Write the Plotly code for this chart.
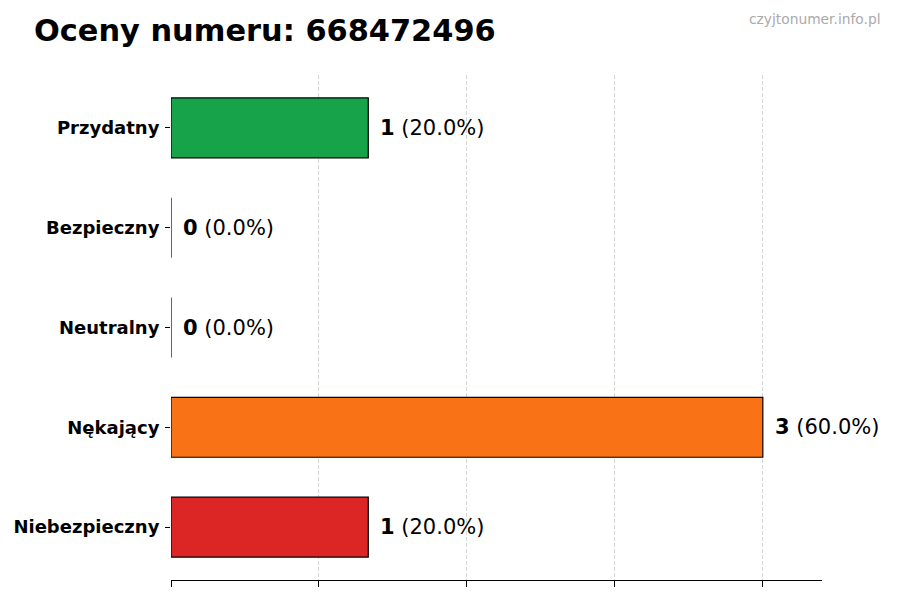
import plotly.graph_objects as go

categories = ["Przydatny", "Bezpieczny", "Neutralny", "Nękający", "Niebezpieczny"]
counts = [1, 0, 0, 3, 1]
percents = [20.0, 0.0, 0.0, 60.0, 20.0]
colors = ["#16a34a", "#16a34a", "#9ca3af", "#f97316", "#dc2626"]
tick_vals = [0, 0.75, 1.5, 2.25, 3]
title = "Oceny numeru: 668472496"
watermark = "czyjtonumer.info.pl"

fig = go.Figure()
fig.add_trace(go.Bar(
    y=categories, x=counts, orientation="h", width=0.6,
    marker=dict(color=colors, line=dict(color="#000000", width=1.2)),
    hoverinfo="skip",
))

for c, v, p in zip(categories, counts, percents):
    fig.add_annotation(
        x=v, y=c, xref="x", yref="y", xanchor="left", yanchor="middle",
        xshift=10, showarrow=False,
        text=f"<b>{v}</b> ({p:.1f}%)",
        font=dict(family="DejaVu Sans", size=21, color="#000000"),
    )

fig.add_annotation(
    x=1.094, y=1.13, xref="paper", yref="paper", xanchor="right", yanchor="top",
    showarrow=False, text=watermark,
    font=dict(family="DejaVu Sans", size=13.8, color="#aaaaaa"),
)

fig.update_layout(
    width=900, height=600,
    paper_bgcolor="white", plot_bgcolor="white",
    margin=dict(l=163, r=86, t=67, b=28, autoexpand=False),
    title=dict(text=f"<b>{title}</b>", x=26/900, xanchor="left", y=1-22/600, yanchor="middle",
               font=dict(family="DejaVu Sans", size=30.4, color="#000000")),
    showlegend=False,
    bargap=0.4,
)
fig.update_xaxes(
    range=[0, 3.3], tickvals=tick_vals, showticklabels=False,
    showgrid=True, gridcolor="#d6d6d6", griddash="4px,2px", gridwidth=1,
    showline=True, linecolor="#000000", linewidth=1.3,
    ticks="outside", ticklen=6, tickcolor="#000000", tickwidth=1,
    zeroline=False, layer="above traces", fixedrange=True, automargin=False,
)
fig.update_yaxes(
    categoryorder="array", categoryarray=categories[::-1],
    range=[-0.53, 4.53],
    showgrid=False, showline=False, zeroline=False, automargin=False,
    ticks="outside", ticklen=5, tickcolor="#000000", tickwidth=1,
    tickfont=dict(family="DejaVu Sans", size=18, color="#000000", weight="bold"),
    ticklabelstandoff=2,
)

fig.write_html("out.html")
